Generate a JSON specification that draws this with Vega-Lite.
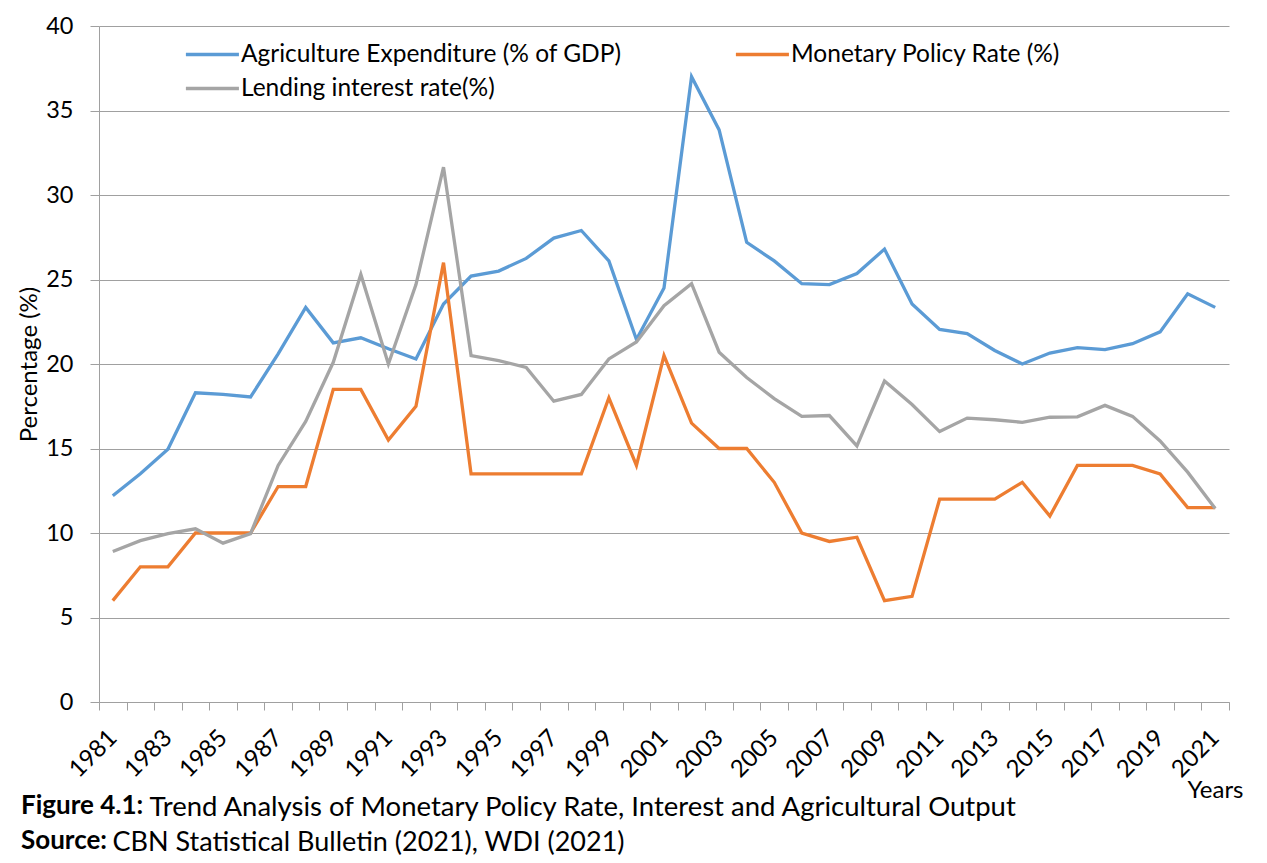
{
  "$schema": "https://vega.github.io/schema/vega-lite/v6.json",
  "width": 1130,
  "height": 676,
  "autosize": "none",
  "padding": {"left": 99, "top": 26, "right": 38, "bottom": 161},
  "background": "white",
  "config": {"font": "Lato", "view": {"stroke": null}},
  "title": {
    "text": ["Figure 4.1:", "Source:"],
    "orient": "bottom",
    "anchor": "start",
    "frame": "group",
    "font": "Lato",
    "fontSize": 26,
    "fontWeight": "bold",
    "color": "black",
    "lineHeight": 35,
    "baseline": "alphabetic",
    "offset": 0,
    "dx": -78,
    "dy": -41
  },
  "data": {
    "values": [
      {"year": 1981, "series": "Agriculture Expenditure (% of GDP)", "value": 12.2},
      {"year": 1982, "series": "Agriculture Expenditure (% of GDP)", "value": 13.5},
      {"year": 1983, "series": "Agriculture Expenditure (% of GDP)", "value": 14.95},
      {"year": 1984, "series": "Agriculture Expenditure (% of GDP)", "value": 18.3},
      {"year": 1985, "series": "Agriculture Expenditure (% of GDP)", "value": 18.2},
      {"year": 1986, "series": "Agriculture Expenditure (% of GDP)", "value": 18.05},
      {"year": 1987, "series": "Agriculture Expenditure (% of GDP)", "value": 20.6},
      {"year": 1988, "series": "Agriculture Expenditure (% of GDP)", "value": 23.35},
      {"year": 1989, "series": "Agriculture Expenditure (% of GDP)", "value": 21.25},
      {"year": 1990, "series": "Agriculture Expenditure (% of GDP)", "value": 21.55},
      {"year": 1991, "series": "Agriculture Expenditure (% of GDP)", "value": 20.9},
      {"year": 1992, "series": "Agriculture Expenditure (% of GDP)", "value": 20.3},
      {"year": 1993, "series": "Agriculture Expenditure (% of GDP)", "value": 23.55},
      {"year": 1994, "series": "Agriculture Expenditure (% of GDP)", "value": 25.2},
      {"year": 1995, "series": "Agriculture Expenditure (% of GDP)", "value": 25.5},
      {"year": 1996, "series": "Agriculture Expenditure (% of GDP)", "value": 26.25},
      {"year": 1997, "series": "Agriculture Expenditure (% of GDP)", "value": 27.45},
      {"year": 1998, "series": "Agriculture Expenditure (% of GDP)", "value": 27.9},
      {"year": 1999, "series": "Agriculture Expenditure (% of GDP)", "value": 26.1},
      {"year": 2000, "series": "Agriculture Expenditure (% of GDP)", "value": 21.45},
      {"year": 2001, "series": "Agriculture Expenditure (% of GDP)", "value": 24.5},
      {"year": 2002, "series": "Agriculture Expenditure (% of GDP)", "value": 37.0},
      {"year": 2003, "series": "Agriculture Expenditure (% of GDP)", "value": 33.85},
      {"year": 2004, "series": "Agriculture Expenditure (% of GDP)", "value": 27.2},
      {"year": 2005, "series": "Agriculture Expenditure (% of GDP)", "value": 26.1},
      {"year": 2006, "series": "Agriculture Expenditure (% of GDP)", "value": 24.75},
      {"year": 2007, "series": "Agriculture Expenditure (% of GDP)", "value": 24.7},
      {"year": 2008, "series": "Agriculture Expenditure (% of GDP)", "value": 25.35},
      {"year": 2009, "series": "Agriculture Expenditure (% of GDP)", "value": 26.8},
      {"year": 2010, "series": "Agriculture Expenditure (% of GDP)", "value": 23.55},
      {"year": 2011, "series": "Agriculture Expenditure (% of GDP)", "value": 22.05},
      {"year": 2012, "series": "Agriculture Expenditure (% of GDP)", "value": 21.8},
      {"year": 2013, "series": "Agriculture Expenditure (% of GDP)", "value": 20.8},
      {"year": 2014, "series": "Agriculture Expenditure (% of GDP)", "value": 20.0},
      {"year": 2015, "series": "Agriculture Expenditure (% of GDP)", "value": 20.65},
      {"year": 2016, "series": "Agriculture Expenditure (% of GDP)", "value": 20.97},
      {"year": 2017, "series": "Agriculture Expenditure (% of GDP)", "value": 20.85},
      {"year": 2018, "series": "Agriculture Expenditure (% of GDP)", "value": 21.2},
      {"year": 2019, "series": "Agriculture Expenditure (% of GDP)", "value": 21.9},
      {"year": 2020, "series": "Agriculture Expenditure (% of GDP)", "value": 24.15},
      {"year": 2021, "series": "Agriculture Expenditure (% of GDP)", "value": 23.35},
      {"year": 1981, "series": "Monetary Policy Rate (%)", "value": 6},
      {"year": 1982, "series": "Monetary Policy Rate (%)", "value": 8},
      {"year": 1983, "series": "Monetary Policy Rate (%)", "value": 8},
      {"year": 1984, "series": "Monetary Policy Rate (%)", "value": 10},
      {"year": 1985, "series": "Monetary Policy Rate (%)", "value": 10},
      {"year": 1986, "series": "Monetary Policy Rate (%)", "value": 10},
      {"year": 1987, "series": "Monetary Policy Rate (%)", "value": 12.75},
      {"year": 1988, "series": "Monetary Policy Rate (%)", "value": 12.75},
      {"year": 1989, "series": "Monetary Policy Rate (%)", "value": 18.5},
      {"year": 1990, "series": "Monetary Policy Rate (%)", "value": 18.5},
      {"year": 1991, "series": "Monetary Policy Rate (%)", "value": 15.5},
      {"year": 1992, "series": "Monetary Policy Rate (%)", "value": 17.5},
      {"year": 1993, "series": "Monetary Policy Rate (%)", "value": 26},
      {"year": 1994, "series": "Monetary Policy Rate (%)", "value": 13.5},
      {"year": 1995, "series": "Monetary Policy Rate (%)", "value": 13.5},
      {"year": 1996, "series": "Monetary Policy Rate (%)", "value": 13.5},
      {"year": 1997, "series": "Monetary Policy Rate (%)", "value": 13.5},
      {"year": 1998, "series": "Monetary Policy Rate (%)", "value": 13.5},
      {"year": 1999, "series": "Monetary Policy Rate (%)", "value": 18},
      {"year": 2000, "series": "Monetary Policy Rate (%)", "value": 14},
      {"year": 2001, "series": "Monetary Policy Rate (%)", "value": 20.5},
      {"year": 2002, "series": "Monetary Policy Rate (%)", "value": 16.5},
      {"year": 2003, "series": "Monetary Policy Rate (%)", "value": 15},
      {"year": 2004, "series": "Monetary Policy Rate (%)", "value": 15},
      {"year": 2005, "series": "Monetary Policy Rate (%)", "value": 13},
      {"year": 2006, "series": "Monetary Policy Rate (%)", "value": 10},
      {"year": 2007, "series": "Monetary Policy Rate (%)", "value": 9.5},
      {"year": 2008, "series": "Monetary Policy Rate (%)", "value": 9.75},
      {"year": 2009, "series": "Monetary Policy Rate (%)", "value": 6},
      {"year": 2010, "series": "Monetary Policy Rate (%)", "value": 6.25},
      {"year": 2011, "series": "Monetary Policy Rate (%)", "value": 12},
      {"year": 2012, "series": "Monetary Policy Rate (%)", "value": 12},
      {"year": 2013, "series": "Monetary Policy Rate (%)", "value": 12},
      {"year": 2014, "series": "Monetary Policy Rate (%)", "value": 13},
      {"year": 2015, "series": "Monetary Policy Rate (%)", "value": 11},
      {"year": 2016, "series": "Monetary Policy Rate (%)", "value": 14},
      {"year": 2017, "series": "Monetary Policy Rate (%)", "value": 14},
      {"year": 2018, "series": "Monetary Policy Rate (%)", "value": 14},
      {"year": 2019, "series": "Monetary Policy Rate (%)", "value": 13.5},
      {"year": 2020, "series": "Monetary Policy Rate (%)", "value": 11.5},
      {"year": 2021, "series": "Monetary Policy Rate (%)", "value": 11.5},
      {"year": 1981, "series": "Lending interest rate(%)", "value": 8.9},
      {"year": 1982, "series": "Lending interest rate(%)", "value": 9.55},
      {"year": 1983, "series": "Lending interest rate(%)", "value": 9.96},
      {"year": 1984, "series": "Lending interest rate(%)", "value": 10.25},
      {"year": 1985, "series": "Lending interest rate(%)", "value": 9.4},
      {"year": 1986, "series": "Lending interest rate(%)", "value": 9.96},
      {"year": 1987, "series": "Lending interest rate(%)", "value": 14.0},
      {"year": 1988, "series": "Lending interest rate(%)", "value": 16.6},
      {"year": 1989, "series": "Lending interest rate(%)", "value": 20.1},
      {"year": 1990, "series": "Lending interest rate(%)", "value": 25.3},
      {"year": 1991, "series": "Lending interest rate(%)", "value": 20.0},
      {"year": 1992, "series": "Lending interest rate(%)", "value": 24.7},
      {"year": 1993, "series": "Lending interest rate(%)", "value": 31.65},
      {"year": 1994, "series": "Lending interest rate(%)", "value": 20.5},
      {"year": 1995, "series": "Lending interest rate(%)", "value": 20.2},
      {"year": 1996, "series": "Lending interest rate(%)", "value": 19.8},
      {"year": 1997, "series": "Lending interest rate(%)", "value": 17.8},
      {"year": 1998, "series": "Lending interest rate(%)", "value": 18.2},
      {"year": 1999, "series": "Lending interest rate(%)", "value": 20.3},
      {"year": 2000, "series": "Lending interest rate(%)", "value": 21.3},
      {"year": 2001, "series": "Lending interest rate(%)", "value": 23.45},
      {"year": 2002, "series": "Lending interest rate(%)", "value": 24.75},
      {"year": 2003, "series": "Lending interest rate(%)", "value": 20.7},
      {"year": 2004, "series": "Lending interest rate(%)", "value": 19.2},
      {"year": 2005, "series": "Lending interest rate(%)", "value": 17.95},
      {"year": 2006, "series": "Lending interest rate(%)", "value": 16.9},
      {"year": 2007, "series": "Lending interest rate(%)", "value": 16.95},
      {"year": 2008, "series": "Lending interest rate(%)", "value": 15.15},
      {"year": 2009, "series": "Lending interest rate(%)", "value": 18.99},
      {"year": 2010, "series": "Lending interest rate(%)", "value": 17.6},
      {"year": 2011, "series": "Lending interest rate(%)", "value": 16.0},
      {"year": 2012, "series": "Lending interest rate(%)", "value": 16.8},
      {"year": 2013, "series": "Lending interest rate(%)", "value": 16.7},
      {"year": 2014, "series": "Lending interest rate(%)", "value": 16.55},
      {"year": 2015, "series": "Lending interest rate(%)", "value": 16.85},
      {"year": 2016, "series": "Lending interest rate(%)", "value": 16.87},
      {"year": 2017, "series": "Lending interest rate(%)", "value": 17.55},
      {"year": 2018, "series": "Lending interest rate(%)", "value": 16.9},
      {"year": 2019, "series": "Lending interest rate(%)", "value": 15.45},
      {"year": 2020, "series": "Lending interest rate(%)", "value": 13.6},
      {"year": 2021, "series": "Lending interest rate(%)", "value": 11.45}
    ]
  },
  "layer": [
    {
      "mark": {"type": "line", "strokeWidth": 3.3},
      "encoding": {
        "x": {
          "field": "year",
          "type": "ordinal",
          "scale": {"type": "band", "paddingInner": 0, "paddingOuter": 0},
          "axis": {
            "title": "Trend Analysis of Monetary Policy Rate, Interest and Agricultural Output",
            "titleX": 50,
            "titleY": 113,
            "titleAlign": "left",
            "titleAnchor": "start",
            "titleBaseline": "alphabetic",
            "titleFont": "Lato",
            "titleFontSize": 27.5,
            "titleFontWeight": "normal",
            "titleColor": "black",
            "labelAngle": -45,
            "labelAlign": "right",
            "labelBaseline": "middle",
            "labelFontSize": 24,
            "labelColor": "black",
            "labelPadding": 24,
            "labelOverlap": false,
            "labelExpr": "datum.value % 2 == 1 ? datum.label : ''",
            "tickSize": 8,
            "tickColor": "#a0a0a0",
            "tickBand": "extent",
            "domainColor": "#a0a0a0",
            "grid": false
          }
        },
        "y": {
          "field": "value",
          "type": "quantitative",
          "scale": {"domain": [0, 40], "nice": false},
          "axis": {
            "title": "Percentage (%)",
            "values": [0, 5, 10, 15, 20, 25, 30, 35, 40],
            "grid": true,
            "gridColor": "#a0a0a0",
            "domainColor": "#a0a0a0",
            "tickColor": "#a0a0a0",
            "tickSize": 9,
            "labelPadding": 17,
            "labelFontSize": 23.5,
            "labelColor": "black",
            "titleFontSize": 24,
            "titleFontWeight": "normal",
            "titleColor": "black",
            "titlePadding": 4
          }
        },
        "color": {
          "field": "series",
          "type": "nominal",
          "scale": {
            "domain": ["Agriculture Expenditure (% of GDP)", "Lending interest rate(%)", "Monetary Policy Rate (%)"],
            "range": ["#5B9BD5", "#A5A5A5", "#ED7D31"]
          },
          "legend": {
            "orient": "none",
            "legendX": 85,
            "legendY": 16,
            "columns": 2,
            "title": null,
            "padding": 0,
            "symbolType": "M-1,0H4",
            "symbolSize": 450,
            "symbolStrokeWidth": 3.3,
            "labelFontSize": 24.5,
            "labelColor": "black",
            "labelOffset": 32,
            "columnPadding": 107,
            "rowPadding": 9,
            "labelLimit": 600
          }
        }
      }
    },
    {
      "mark": {"type": "line", "opacity": 0},
      "encoding": {
        "x": {
          "field": "year",
          "type": "ordinal",
          "scale": {"type": "band", "paddingInner": 0, "paddingOuter": 0},
          "axis": {
            "orient": "top",
            "title": "CBN Statistical Bulletin (2021), WDI (2021)",
            "labels": false,
            "ticks": false,
            "domain": false,
            "grid": false,
            "titleX": 13,
            "titleY": 824,
            "titleAlign": "left",
            "titleAnchor": "start",
            "titleBaseline": "alphabetic",
            "titleFont": "Lato",
            "titleFontSize": 27,
            "titleFontWeight": "normal",
            "titleColor": "black"
          }
        },
        "y": {
          "field": "value",
          "type": "quantitative",
          "axis": {
            "orient": "right",
            "title": "Years",
            "labels": false,
            "ticks": false,
            "domain": false,
            "grid": false,
            "titleAngle": 0,
            "titleX": -42,
            "titleY": 771,
            "titleAlign": "left",
            "titleAnchor": "start",
            "titleBaseline": "alphabetic",
            "titleFontSize": 24,
            "titleFontWeight": "normal",
            "titleColor": "black"
          }
        }
      }
    }
  ],
  "resolve": {"axis": {"x": "independent", "y": "independent"}}
}
